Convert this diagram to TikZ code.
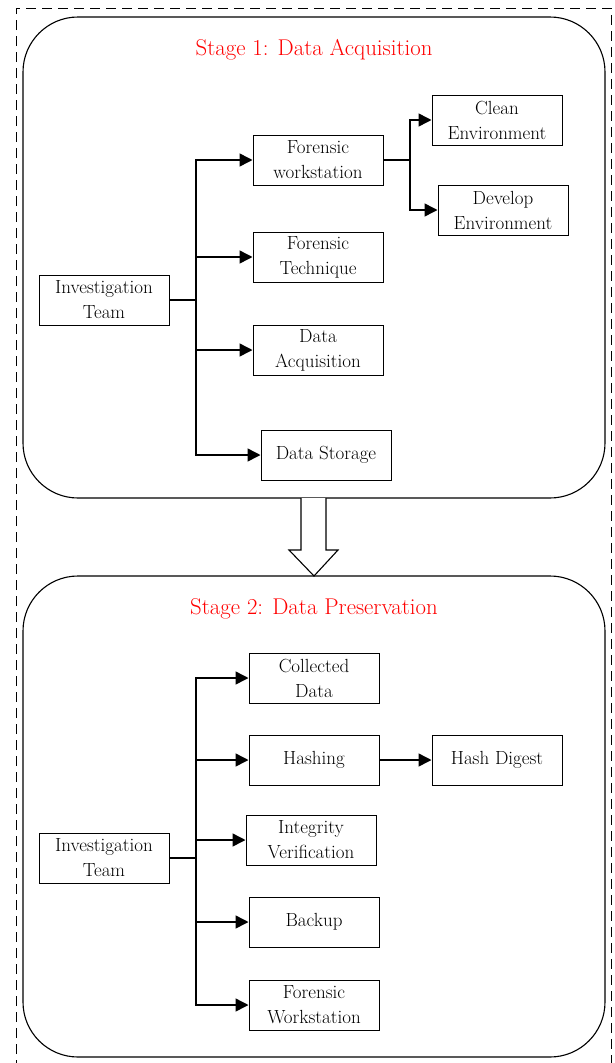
\documentclass[tikz,border=0pt]{standalone}
\usepackage{fontspec}
\usepackage{tikz}
\usetikzlibrary{arrows.meta}

\begin{document}
\begin{tikzpicture}
[x=1pt, y=-1pt,
 every node/.style={draw, line width=1pt, minimum width=130pt, minimum height=50pt, inner sep=0pt, align=center, font=\fontsize{19}{25}\selectfont},
 title/.style={draw=none, text=red, font=\fontsize{22.8}{26}\selectfont},
 arr/.style={line width=1.5pt, -{Triangle[length=13pt,width=13pt]}}]
\useasboundingbox (0,0) rectangle (615,1063);

% outer frame and stages
\draw[dashed, dash pattern=on 10pt off 6pt, line width=0.9pt] (16,1070) -- (16,8) -- (611,8) -- (611,1070);
\draw[line width=1.1pt, rounded corners=55pt] (23,17) rectangle (605,498);
\draw[line width=1.1pt, rounded corners=55pt] (23,576) rectangle (605,1057);
\draw[line width=1.1pt, fill=white] (301,498) -- (301,550) -- (289,550) -- (314,576) -- (338,550) -- (326,550) -- (326,498);

\node[title] (t1) at (314,50) {Stage 1: Data Acquisition};
\node[title] (t2) at (314,609) {Stage 2: Data Preservation};

% stage 1
\node (n1) at (104,300) {Investigation\\Team};
\node (n2) at (318,160) {Forensic\\workstation};
\node (n3) at (318,257) {Forensic\\Technique};
\node (n4) at (318,350) {Data\\Acquisition};
\node (n5) at (326,455) {Data Storage};
\node (n6) at (497,120) {Clean\\Environment};
\node (n7) at (503,210) {Develop\\Environment};

\coordinate (b1) at (196,300);
\coordinate (b2) at (410,160);
\draw[line width=1.5pt] (n1.east) -- (b1);
\draw[line width=1.5pt] (n2.east) -- (b2);
\foreach \to in {n2,n3,n4,n5}
	\draw[arr] (b1) |- (\to.west);
\foreach \to in {n6,n7}
	\draw[arr] (b2) |- (\to.west);

% stage 2
\node (n8) at (104,858) {Investigation\\Team};
\node (n9) at (314,678) {Collected\\Data};
\node (n10) at (314,760) {Hashing};
\node (n11) at (311,840) {Integrity\\Verification};
\node (n12) at (314,922) {Backup};
\node (n13) at (314,1005) {Forensic\\Workstation};
\node (n14) at (497,760) {Hash Digest};

\coordinate (b3) at (196,858);
\draw[line width=1.5pt] (n8.east) -- (b3);
\foreach \to in {n9,n10,n11,n12,n13}
	\draw[arr] (b3) |- (\to.west);
\draw[arr] (n10) -- (n14);

\end{tikzpicture}
\end{document}
